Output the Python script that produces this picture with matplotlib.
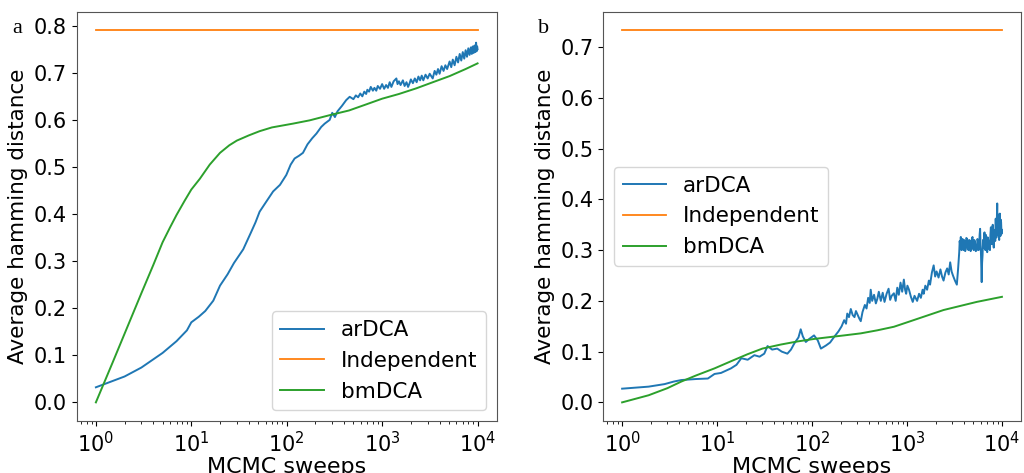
import matplotlib
matplotlib.use("Agg")
import matplotlib.pyplot as plt

# panel a: arDCA trajectory (sweeps, average hamming distance)
a_ar_x = [1, 2, 3, 5, 7, 9, 10, 12, 14, 17, 20, 24, 28, 35, 42, 47, 52, 60, 72, 85,
          99, 110, 121, 135, 148, 165, 185, 205, 230, 250, 282, 300, 320, 340, 380,
          420, 457,
          500, 530, 560, 590, 620, 650, 680, 700, 730, 760, 800, 830, 868, 900, 950,
          1000, 1050, 1100, 1150, 1200, 1250, 1320, 1410, 1450, 1500, 1560, 1650,
          1720, 1800, 1870, 1942, 2000, 2100, 2200, 2300, 2400, 2500, 2600, 2700,
          2850, 3000, 3150, 3388, 3550, 3700, 3850, 4000, 4200, 4400, 4600, 4800,
          5093, 5300, 5500, 5750, 6000, 6250, 6500, 6750, 7000, 7250, 7500, 7750,
          8000, 8250, 8500, 8700, 8900, 9100, 9300, 9500, 9650, 9800, 9900, 10000]
a_ar_y = [0.032, 0.055, 0.074, 0.105, 0.130, 0.153, 0.170, 0.182, 0.194, 0.216,
          0.248, 0.272, 0.296, 0.325, 0.360, 0.382, 0.405, 0.424, 0.448, 0.462,
          0.483, 0.505, 0.518, 0.524, 0.530, 0.548, 0.561, 0.571, 0.585, 0.592,
          0.600, 0.615, 0.606, 0.618, 0.630, 0.642, 0.649,
          0.644, 0.652, 0.648, 0.656, 0.650, 0.660, 0.655, 0.664, 0.660, 0.670,
          0.662, 0.668, 0.662, 0.672, 0.666, 0.676, 0.666, 0.674, 0.668, 0.680,
          0.670, 0.682, 0.688, 0.676, 0.682, 0.674, 0.684, 0.672, 0.680, 0.670,
          0.678, 0.686, 0.678, 0.688, 0.680, 0.692, 0.684, 0.694, 0.684, 0.696,
          0.688, 0.698, 0.688, 0.704, 0.696, 0.708, 0.698, 0.714, 0.704, 0.716,
          0.708, 0.724, 0.712, 0.728, 0.716, 0.734, 0.722, 0.740, 0.726, 0.744,
          0.730, 0.748, 0.734, 0.752, 0.738, 0.754, 0.740, 0.756, 0.742, 0.758,
          0.744, 0.764, 0.746, 0.756, 0.750]

# panel a: bmDCA trajectory
a_bm_x = [1, 1.5, 2, 3, 4, 5, 6, 7, 8.5, 10, 12.3, 15.6, 20, 25, 30, 40, 52, 70,
          116, 174, 282, 450, 683, 1000, 1500, 2280, 3400, 5093, 7500, 10000]
a_bm_y = [0.0, 0.085, 0.146, 0.232, 0.292, 0.340, 0.372, 0.398, 0.428, 0.452,
          0.475, 0.505, 0.530, 0.546, 0.556, 0.567, 0.576, 0.584, 0.592, 0.599,
          0.610, 0.620, 0.633, 0.645, 0.655, 0.667, 0.680, 0.693, 0.708, 0.720]

a_indep = 0.79

# panel b: arDCA trajectory
b_ar_x = [1, 1.9, 2.8, 3.5, 4.2, 6, 8, 9.4, 11, 14, 16, 18, 21, 24.7, 28, 31.4, 34,
          38, 43, 48, 55, 60, 65, 72, 76, 80, 86, 95, 105, 115, 124, 140, 155, 171,
          190,
          205, 218, 228, 235, 245, 256, 268, 280, 290, 300, 315, 326, 340, 360, 375,
          390, 405, 415, 430, 450, 470, 487, 505, 530, 555, 580, 610, 640, 665, 690,
          728, 760, 790, 820, 855, 890, 927, 955, 980, 1010, 1050, 1100, 1150, 1200,
          1279, 1340, 1400, 1460, 1500, 1560, 1629, 1700, 1750, 1830, 1910, 1980,
          2050, 2150, 2250, 2340, 2427, 2540, 2650, 2750, 2851, 2950, 3050, 3200,
          3350, 3450,
          3550, 3590, 3630, 3690, 3750, 3800, 3850, 3900, 3950, 4000,
          4050, 4100, 4150, 4220, 4300, 4370, 4450, 4520, 4600, 4680,
          4750, 4820, 4900, 4970, 5050, 5120, 5200, 5300, 5430, 5520,
          5600, 5680, 5750, 5820, 5890, 5950, 6000, 6060, 6120, 6180,
          6250, 6320, 6400, 6480, 6550, 6620, 6700, 6780, 6850, 6920,
          7000, 7100, 7200, 7340, 7480, 7560, 7650, 7720, 7800, 7900,
          8000, 8100, 8200, 8300, 8400, 8500, 8600, 8680, 8750, 8840,
          8920, 8980, 9050, 9120, 9200, 9280, 9350, 9420, 9500, 9580,
          9650, 9720, 9800, 9900, 10000]
b_ar_y = [0.027, 0.031, 0.036, 0.041, 0.044, 0.046, 0.047, 0.056, 0.058, 0.067,
          0.074, 0.087, 0.084, 0.093, 0.090, 0.096, 0.111, 0.104, 0.106, 0.100,
          0.096, 0.104, 0.116, 0.128, 0.144, 0.130, 0.119, 0.126, 0.132, 0.122,
          0.106, 0.112, 0.118, 0.129, 0.140,
          0.150, 0.162, 0.155, 0.175, 0.168, 0.184, 0.172, 0.168, 0.180, 0.174,
          0.165, 0.160, 0.178, 0.192, 0.185, 0.206, 0.196, 0.222, 0.200, 0.212,
          0.195, 0.204, 0.218, 0.200, 0.216, 0.198, 0.214, 0.224, 0.202, 0.210,
          0.215, 0.200, 0.226, 0.212, 0.236, 0.218, 0.242, 0.222, 0.214, 0.230,
          0.222, 0.208, 0.198, 0.210, 0.200, 0.214, 0.206, 0.222, 0.214, 0.230,
          0.222, 0.240, 0.232, 0.256, 0.270, 0.248, 0.258, 0.246, 0.262, 0.248,
          0.240, 0.256, 0.264, 0.252, 0.276, 0.258, 0.250, 0.240, 0.232, 0.262,
          0.296, 0.318, 0.310, 0.326, 0.300, 0.316, 0.322, 0.304, 0.300, 0.320,
          0.318, 0.298, 0.302, 0.324, 0.322, 0.302, 0.300, 0.320, 0.318, 0.298,
          0.302, 0.322, 0.326, 0.304, 0.300, 0.320, 0.316, 0.298, 0.300, 0.322,
          0.318, 0.300, 0.302, 0.330, 0.342, 0.310, 0.300, 0.270, 0.237, 0.275,
          0.290, 0.320, 0.305, 0.326, 0.335, 0.305, 0.300, 0.330, 0.325, 0.302,
          0.296, 0.325, 0.318, 0.302, 0.300, 0.330, 0.345, 0.318, 0.312, 0.338,
          0.350, 0.318, 0.305, 0.335, 0.340, 0.318, 0.362, 0.335, 0.325, 0.360,
          0.392, 0.345, 0.330, 0.355, 0.370, 0.335, 0.320, 0.350, 0.372, 0.340,
          0.328, 0.360, 0.355, 0.332, 0.340]

# panel b: bmDCA trajectory
b_bm_x = [1, 1.9, 3, 4.2, 6, 9.4, 14, 21, 30, 47, 70, 105, 218, 326, 487, 728, 1089,
          2427, 5430, 10000]
b_bm_y = [0.0, 0.014, 0.028, 0.041, 0.053, 0.067, 0.081, 0.095, 0.106, 0.114,
          0.120, 0.125, 0.132, 0.136, 0.142, 0.149, 0.160, 0.182, 0.198, 0.208]

b_indep = 0.733

sweeps_range = [1, 10000]

plt.rcParams['font.size'] = 15
plt.rcParams['xtick.labelsize'] = 15
plt.rcParams['ytick.labelsize'] = 15

fig = plt.figure(figsize=(10.24, 4.73), dpi=100)
ax_a = fig.add_axes([0.075, 0.11, 0.41, 0.865])
ax_b = fig.add_axes([0.589, 0.11, 0.408, 0.865])

panels = [
    (ax_a, a_ar_x, a_ar_y, a_bm_x, a_bm_y, a_indep, 'lower right'),
    (ax_b, b_ar_x, b_ar_y, b_bm_x, b_bm_y, b_indep, 'center left'),
]

for ax, ar_x, ar_y, bm_x, bm_y, indep, loc in panels:
    ax.plot(ar_x, ar_y, color='C0', lw=1.4, label='arDCA')
    ax.plot(sweeps_range, [indep, indep], color='C1', lw=1.3, label='Independent')
    ax.plot(bm_x, bm_y, color='C2', lw=1.4, label='bmDCA')
    ax.set_xscale('log')
    ax.set_xlabel('MCMC sweeps', fontsize=16, labelpad=1)
    ax.set_ylabel('Average hamming distance', fontsize=15.5)
    ax.legend(loc=loc, fontsize=15.5)
    for sp in ax.spines.values():
        sp.set_color('#555555')

ax_a.set_yticks([0.0, 0.1, 0.2, 0.3, 0.4, 0.5, 0.6, 0.7, 0.8])
ax_b.set_yticks([0.0, 0.1, 0.2, 0.3, 0.4, 0.5, 0.6, 0.7])

fig.text(0.012, 0.93, 'a', family='Liberation Serif', fontsize=16)
fig.text(0.525, 0.93, 'b', family='Liberation Serif', fontsize=16)

fig.savefig('out.png', dpi=100)
